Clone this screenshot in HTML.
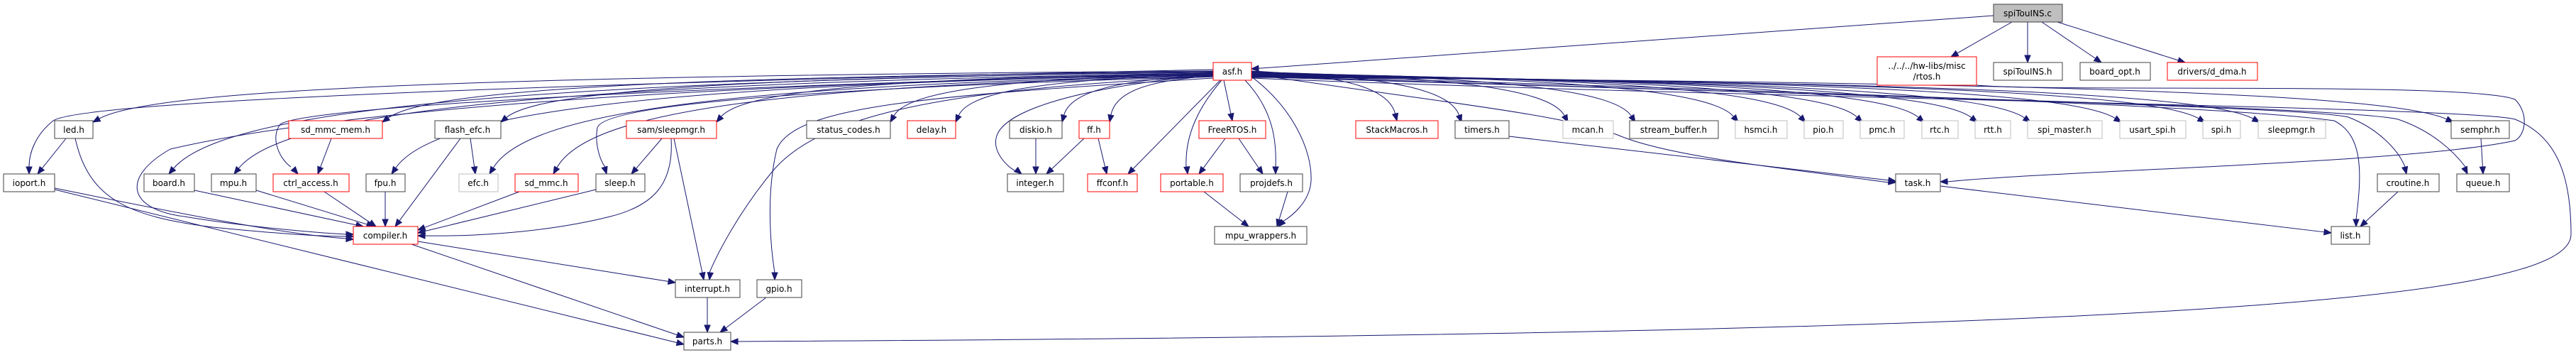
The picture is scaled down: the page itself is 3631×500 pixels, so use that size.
<!DOCTYPE html>
<html><head><meta charset="utf-8"><style>
html,body{margin:0;padding:0;background:#fff;width:3631px;height:500px;overflow:hidden}
svg{display:block}
text{font-family:"DejaVu Sans","Liberation Sans",sans-serif;font-size:12px;fill:#000;text-anchor:middle}
</style></head><body>
<svg id="g" width="3631" height="500" viewBox="0 0 3631 500" xmlns="http://www.w3.org/2000/svg">
<g id="edges" fill="none" stroke="#191970" stroke-width="1"></g>
<g id="heads" fill="#191970" stroke="#191970" stroke-width="1"></g>
<g id="nodes" stroke-width="1">
<rect x="2810" y="6" width="97" height="25" fill="#bfbfbf" stroke="#404040"/><text x="2858" y="23">spiTouINS.c</text>
<rect x="2646" y="80" width="140" height="40" fill="#fff" stroke="#ff0000"/><text x="2716" y="97">../../../hw-libs/misc</text><text x="2716" y="112">/rtos.h</text>
<rect x="2810" y="88" width="97" height="25" fill="#fff" stroke="#404040"/><text x="2858" y="105">spiTouINS.h</text>
<rect x="2932" y="88" width="99" height="25" fill="#fff" stroke="#404040"/><text x="2981" y="105">board_opt.h</text>
<rect x="3055" y="88" width="127" height="25" fill="#fff" stroke="#ff0000"/><text x="3118" y="105">drivers/d_dma.h</text>
<rect x="1710" y="88" width="54" height="25" fill="#fff" stroke="#ff0000"/><text x="1737" y="105">asf.h</text>

<rect x="77" y="170" width="54" height="25" fill="#fff" stroke="#404040"/><text x="104" y="187">led.h</text>
<rect x="407" y="170" width="132" height="25" fill="#fff" stroke="#ff0000"/><text x="473" y="187">sd_mmc_mem.h</text>
<rect x="613" y="170" width="93" height="25" fill="#fff" stroke="#404040"/><text x="659" y="187">flash_efc.h</text>
<rect x="883" y="170" width="127" height="25" fill="#fff" stroke="#ff0000"/><text x="946" y="187">sam/sleepmgr.h</text>
<rect x="1137" y="170" width="118" height="25" fill="#fff" stroke="#404040"/><text x="1196" y="187">status_codes.h</text>
<rect x="1279" y="170" width="68" height="25" fill="#fff" stroke="#ff0000"/><text x="1313" y="187">delay.h</text>
<rect x="1423" y="170" width="74" height="25" fill="#fff" stroke="#404040"/><text x="1460" y="187">diskio.h</text>
<rect x="1521" y="170" width="43" height="25" fill="#fff" stroke="#ff0000"/><text x="1542" y="187">ff.h</text>
<rect x="1690" y="170" width="94" height="25" fill="#fff" stroke="#ff0000"/><text x="1737" y="187">FreeRTOS.h</text>
<rect x="1911" y="170" width="116" height="25" fill="#fff" stroke="#ff0000"/><text x="1969" y="187">StackMacros.h</text>
<rect x="2051" y="170" width="76" height="25" fill="#fff" stroke="#404040"/><text x="2089" y="187">timers.h</text>
<rect x="2203" y="170" width="71" height="25" fill="#fff" stroke="#bfbfbf"/><text x="2238" y="187">mcan.h</text>
<rect x="2297" y="170" width="125" height="25" fill="#fff" stroke="#404040"/><text x="2359" y="187">stream_buffer.h</text>
<rect x="2446" y="170" width="73" height="25" fill="#fff" stroke="#bfbfbf"/><text x="2482" y="187">hsmci.h</text>
<rect x="2543" y="170" width="55" height="25" fill="#fff" stroke="#bfbfbf"/><text x="2570" y="187">pio.h</text>
<rect x="2622" y="170" width="62" height="25" fill="#fff" stroke="#bfbfbf"/><text x="2653" y="187">pmc.h</text>
<rect x="2709" y="170" width="51" height="25" fill="#fff" stroke="#bfbfbf"/><text x="2734" y="187">rtc.h</text>
<rect x="2784" y="170" width="50" height="25" fill="#fff" stroke="#bfbfbf"/><text x="2809" y="187">rtt.h</text>
<rect x="2858" y="170" width="105" height="25" fill="#fff" stroke="#bfbfbf"/><text x="2910" y="187">spi_master.h</text>
<rect x="2988" y="170" width="93" height="25" fill="#fff" stroke="#bfbfbf"/><text x="3034" y="187">usart_spi.h</text>
<rect x="3105" y="170" width="53" height="25" fill="#fff" stroke="#bfbfbf"/><text x="3131" y="187">spi.h</text>
<rect x="3183" y="170" width="95" height="25" fill="#fff" stroke="#bfbfbf"/><text x="3230" y="187">sleepmgr.h</text>
<rect x="3455" y="170" width="82" height="25" fill="#fff" stroke="#404040"/><text x="3496" y="187">semphr.h</text>

<rect x="5" y="245" width="72" height="25" fill="#fff" stroke="#404040"/><text x="41" y="262">ioport.h</text>
<rect x="203" y="245" width="71" height="25" fill="#fff" stroke="#404040"/><text x="238" y="262">board.h</text>
<rect x="298" y="245" width="63" height="25" fill="#fff" stroke="#404040"/><text x="329" y="262">mpu.h</text>
<rect x="385" y="245" width="107" height="25" fill="#fff" stroke="#ff0000"/><text x="438" y="262">ctrl_access.h</text>
<rect x="516" y="245" width="55" height="25" fill="#fff" stroke="#404040"/><text x="543" y="262">fpu.h</text>
<rect x="647" y="245" width="55" height="25" fill="#fff" stroke="#bfbfbf"/><text x="674" y="262">efc.h</text>
<rect x="726" y="245" width="89" height="25" fill="#fff" stroke="#ff0000"/><text x="770" y="262">sd_mmc.h</text>
<rect x="840" y="245" width="69" height="25" fill="#fff" stroke="#404040"/><text x="874" y="262">sleep.h</text>
<rect x="1420" y="245" width="79" height="25" fill="#fff" stroke="#404040"/><text x="1459" y="262">integer.h</text>
<rect x="1533" y="245" width="70" height="25" fill="#fff" stroke="#ff0000"/><text x="1568" y="262">ffconf.h</text>
<rect x="1636" y="245" width="88" height="25" fill="#fff" stroke="#ff0000"/><text x="1680" y="262">portable.h</text>
<rect x="1748" y="245" width="88" height="25" fill="#fff" stroke="#404040"/><text x="1792" y="262">projdefs.h</text>
<rect x="2672" y="245" width="63" height="25" fill="#fff" stroke="#404040"/><text x="2703" y="262">task.h</text>
<rect x="3351" y="245" width="87" height="25" fill="#fff" stroke="#404040"/><text x="3394" y="262">croutine.h</text>
<rect x="3463" y="245" width="74" height="25" fill="#fff" stroke="#404040"/><text x="3500" y="262">queue.h</text>

<rect x="498" y="319" width="91" height="25" fill="#fff" stroke="#ff0000"/><text x="543" y="336">compiler.h</text>
<rect x="1712" y="319" width="130" height="25" fill="#fff" stroke="#404040"/><text x="1777" y="336">mpu_wrappers.h</text>
<rect x="3286" y="319" width="54" height="25" fill="#fff" stroke="#404040"/><text x="3313" y="336">list.h</text>

<rect x="952" y="394" width="91" height="25" fill="#fff" stroke="#404040"/><text x="997" y="411">interrupt.h</text>
<rect x="1067" y="394" width="63" height="25" fill="#fff" stroke="#404040"/><text x="1098" y="411">gpio.h</text>
<rect x="964" y="468" width="66" height="25" fill="#fff" stroke="#404040"/><text x="997" y="485">parts.h</text>
</g>
</svg>
<script>
var NS="http://www.w3.org/2000/svg",eg=document.getElementById("edges"),hg=document.getElementById("heads");
function head(px,py,x,y){var dx=x-px,dy=y-py,l=Math.hypot(dx,dy)||1;dx/=l;dy/=l;
var bx=x-dx*10,by=y-dy*10,nx=-dy*4,ny=dx*4;
var p=document.createElementNS(NS,"polygon");p.setAttribute("points",x+","+y+" "+(bx+nx)+","+(by+ny)+" "+(bx-nx)+","+(by-ny));hg.appendChild(p);
return [bx,by];}
function P(d){var p=document.createElementNS(NS,"path");p.setAttribute("d",d);eg.appendChild(p);}
function E(x1,y1,x2,y2,m){var c1,c2;
if(m=="s"){c1=[x1,y1];c2=[x1,y1];}
else if(m=="h"){c1=[x1+(x2-x1)*0.5,y1];c2=[x2-(x2-x1)*0.5,y2];}
else if(m=="f"){c1=[x1+(x2-x1)*0.7,y1+(y2-y1)*0.1];c2=[x2+(x1-x2)*0.05,y2-(y2-y1)*0.6];}
else {c1=[x1,y1+(y2-y1)*0.5];c2=[x2,y2-(y2-y1)*0.5];}
var b=head(c2[0],c2[1],x2,y2);
P("M"+x1+","+y1+" C"+c1[0]+","+c1[1]+" "+c2[0]+","+c2[1]+" "+b[0]+","+b[1]);}
function C(d,px,py,x,y){var b=head(px,py,x,y);P(d+" "+b[0]+","+b[1]);}
E(2810,22,1764,97,"s");E(2836,31,2750,80,"s");E(2858,31,2858,88,"s");E(2878,31,2962,88,"s");E(2900,31,3080,88,"s");
var L=[[131,172],[539,172],[706,172],[1010,172],[1255,172],[1347,172],[1497,172],[1564,172]];
L.forEach(function(t,i){E(1710,100+i,t[0],t[1],"f");});
C("M1710,98 C900,115 120,140 75,170 C50,190 41,215 41,235",41,230,41,245);
E(1710,101,238,245,"f");E(1710,103,330,245,"f");
C("M1710,104 C1000,120 430,150 395,175 C380,195 395,225 410,235",405,228,420,245);
E(1710,105,552,245,"f");E(1710,106,690,245,"f");E(1710,107,780,245,"f");
C("M1710,108 C1100,125 850,150 842,180 C838,200 845,225 853,235",850,228,855,245);
C("M1710,103 C1000,120 500,150 240,210 C170,250 180,295 260,305 C350,320 450,328 488,330",480,330,498,330);
C("M1710,108 C1300,125 1150,170 1090,240 C1040,300 1010,360 1000,384",1003,370,1000,394);
C("M1710,110 C1300,135 1120,150 1095,210 C1078,280 1088,360 1092,384",1092,370,1092,394);
C("M1710,105 C1500,125 1410,160 1404,195 C1400,215 1420,235 1430,240",1424,232,1440,245);
E(1725,113,1737,170,"s");
E(1720,113,1590,245,"s");
C("M1722,113 C1690,150 1670,190 1672,235",1672,228,1674,245);
C("M1755,113 C1790,150 1800,190 1798,235",1798,228,1798,245);
C("M1764,108 C1820,150 1850,210 1848,255 C1846,285 1820,305 1808,312",1815,305,1802,319);
var R=[[1969,170],[2060,172],[2210,172],[2305,172],[2450,172],[2545,172],[2625,172],[2712,172],[2787,172],[2862,172],[2990,172],[3108,172],[3185,172],[3458,172]];
R.forEach(function(t,i){E(1764,100+i*0.7,t[0],t[1],"f");});
C("M1764,104 C2000,140 2200,160 2280,190 C2350,220 2500,235 2662,257",2640,254,2672,257);
C("M1764,106 C2600,130 3150,150 3290,170 C3330,190 3330,240 3321,309",3321,300,3321,319);
C("M1764,107 C2600,135 3250,150 3310,165 C3350,180 3380,210 3390,235",3388,228,3392,245);
C("M1764,108 C2600,135 3300,150 3380,168 C3430,185 3460,215 3475,235",3470,228,3478,245);
C("M1764,110 C2500,140 3480,150 3545,168 C3600,190 3624,240 3624,330 C3624,420 3100,470 1040,481",1060,481,1030,481);
C("M2786,120 C2900,130 3480,115 3545,140 C3565,160 3560,190 3545,198 C3400,230 2900,240 2745,256",2760,255,2735,256);
E(93,195,53,245,"s");
C("M106,195 C125,280 180,305 300,320 C400,330 460,333 488,333",480,333,498,333);
C("M77,265 C250,300 400,330 488,336",480,336,498,337);
E(77,267,964,485,"s");
E(467,195,448,245,"s");
E(274,268,512,319,"s");E(361,268,527,319,"s");E(457,270,530,319,"s");E(543,270,543,319,"s");
E(649,195,557,319,"s");E(663,195,670,245,"s");
E(732,270,589,324,"s");E(840,267,589,328,"s");
E(933,195,890,245,"s");
C("M946,195 C950,260 920,290 860,305 C760,330 650,333 599,332",610,332,589,332);
E(950,195,992,394,"s");
E(589,340,952,398,"s");E(580,344,964,475,"s");
E(997,419,997,468,"s");E(1080,419,1015,468,"s");
E(1460,195,1460,245,"s");E(1528,195,1475,245,"s");E(1548,195,1560,245,"s");
E(1727,195,1690,245,"s");E(1746,195,1780,245,"s");
E(1697,270,1760,319,"s");E(1815,270,1800,319,"s");
E(2127,192,2672,255,"s");E(2735,262,3286,328,"s");
E(3380,270,3327,319,"s");E(3497,195,3500,245,"s");
</script>
</body></html>
